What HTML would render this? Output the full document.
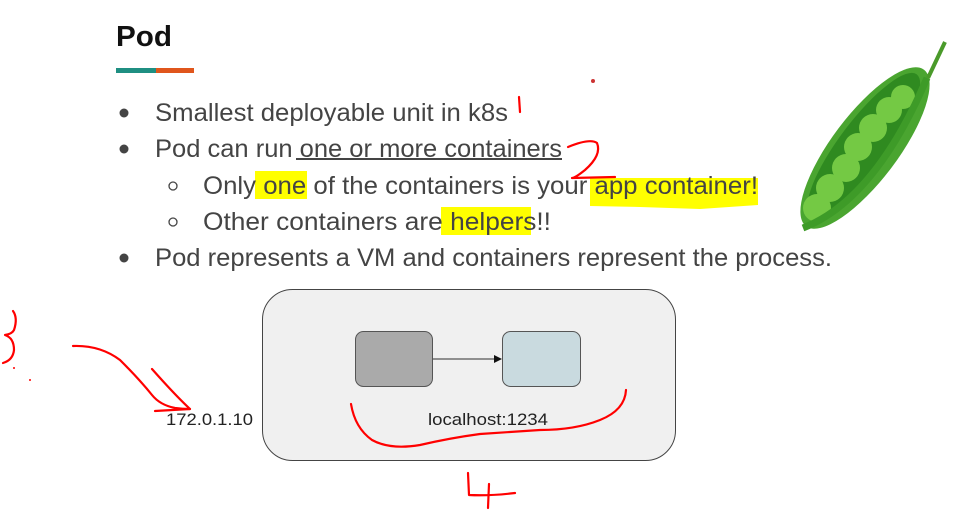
<!DOCTYPE html>
<html><head><meta charset="utf-8"><style>
html,body{margin:0;padding:0;background:#fff;}
svg{display:block}
text{font-family:"Liberation Sans",sans-serif;}
</style></head><body>
<svg width="954" height="514" viewBox="0 0 954 514" xmlns="http://www.w3.org/2000/svg">
<rect width="954" height="514" fill="#fff"/>
<text x="116" y="46" font-size="29" font-weight="bold" fill="#111" textLength="56" lengthAdjust="spacingAndGlyphs">Pod</text>
<rect x="116" y="68" width="40" height="5" fill="#1f8f82"/>
<rect x="156" y="68" width="38" height="5" fill="#e0561c"/>
<rect x="255" y="171" width="52" height="28" fill="#ffff00"/>
<path d="M590 178 L758 178 L758 205 L700 209 L640 207 L590 206 Z" fill="#ffff00"/>
<rect x="441" y="207" width="90" height="28" fill="#ffff00"/>
<g fill="#444">
<circle cx="124" cy="113" r="4.5"/>
<circle cx="124" cy="149" r="4.5"/>
<circle cx="124" cy="258" r="4.5"/>
</g>
<g fill="none" stroke="#444" stroke-width="1.3">
<circle cx="173" cy="186" r="4"/>
<circle cx="173" cy="222" r="4"/>
</g>
<g font-size="25" fill="#444">
<text x="155" y="121" textLength="353" lengthAdjust="spacingAndGlyphs">Smallest deployable unit in k8s</text>
<text x="155" y="157" textLength="407" lengthAdjust="spacingAndGlyphs">Pod can run one or more containers</text>
<text x="203" y="194" textLength="555" lengthAdjust="spacingAndGlyphs">Only one of the containers is your app container!</text>
<text x="203" y="230" textLength="348" lengthAdjust="spacingAndGlyphs">Other containers are helpers!!</text>
<text x="155" y="266" textLength="677" lengthAdjust="spacingAndGlyphs">Pod represents a VM and containers represent the process.</text>
</g>
<rect x="296" y="158" width="266" height="2" fill="#444"/>
<!-- pea pod -->
<g transform="translate(865,148) rotate(-53)">
<ellipse cx="0" cy="0" rx="98" ry="33" fill="#4aa530"/>
<ellipse cx="2" cy="-3" rx="88" ry="24" fill="#2f8a20"/>
</g>
<g fill="#74c944">
<circle cx="817" cy="208" r="14"/>
<circle cx="830" cy="188" r="14"/>
<circle cx="846" cy="168" r="14"/>
<circle cx="858" cy="147" r="14"/>
<circle cx="873" cy="128" r="14"/>
<circle cx="889" cy="110" r="13"/>
<circle cx="903" cy="97" r="12"/>
</g>
<path d="M803 228 Q875 200 927 78" fill="none" stroke="#3e9b28" stroke-width="7"/>
<path d="M928 78 L945 42" stroke="#4a9a2a" stroke-width="4"/>
<rect x="262.5" y="289.5" width="413" height="171" rx="30" fill="#f0f0f0" stroke="#444" stroke-width="1"/>
<rect x="355.5" y="331.5" width="77" height="55" rx="8" fill="#aaaaaa" stroke="#555"/>
<rect x="502.5" y="331.5" width="78" height="55" rx="8" fill="#c9dadf" stroke="#555"/>
<line x1="432" y1="359" x2="494" y2="359" stroke="#555" stroke-width="1.3"/>
<path d="M494 355 L502 359 L494 363 Z" fill="#111"/>
<text x="166" y="425" font-size="17" fill="#222" textLength="87" lengthAdjust="spacingAndGlyphs">172.0.1.10</text>
<text x="428" y="425" font-size="17" fill="#222" textLength="120" lengthAdjust="spacingAndGlyphs">localhost:1234</text>
<g fill="none" stroke="#f00" stroke-width="2.2" stroke-linecap="round" stroke-linejoin="round">
<path d="M519 97 L520 112"/>
<path d="M568 147 Q590 138 597 143 Q602 155 585 170 Q575 178 572 178 L615 177"/>
<path d="M13 311 Q18 318 14 330 Q12 334 5 335 Q14 338 14 350 Q13 360 3 363"/>
<path d="M73 346 Q100 345 120 360 Q140 380 152 395 Q160 405 175 408 Q182 409 190 409 Q175 395 152 369"/>
<path d="M190 409 Q172 410 155 411"/>
<path d="M351 404 Q355 428 372 440 Q390 450 420 445 Q450 438 480 434 Q510 432 540 430 Q575 430 600 420 Q625 410 626 390"/>
<path d="M468 473 L469 495 Q490 496 515 493"/>
<path d="M489 484 L488 508"/>
</g>
<circle cx="14" cy="368" r="1" fill="#f00"/>
<circle cx="30" cy="380" r="1" fill="#f00"/>
<circle cx="593" cy="81" r="2" fill="#c33"/>
</svg>
</body></html>
